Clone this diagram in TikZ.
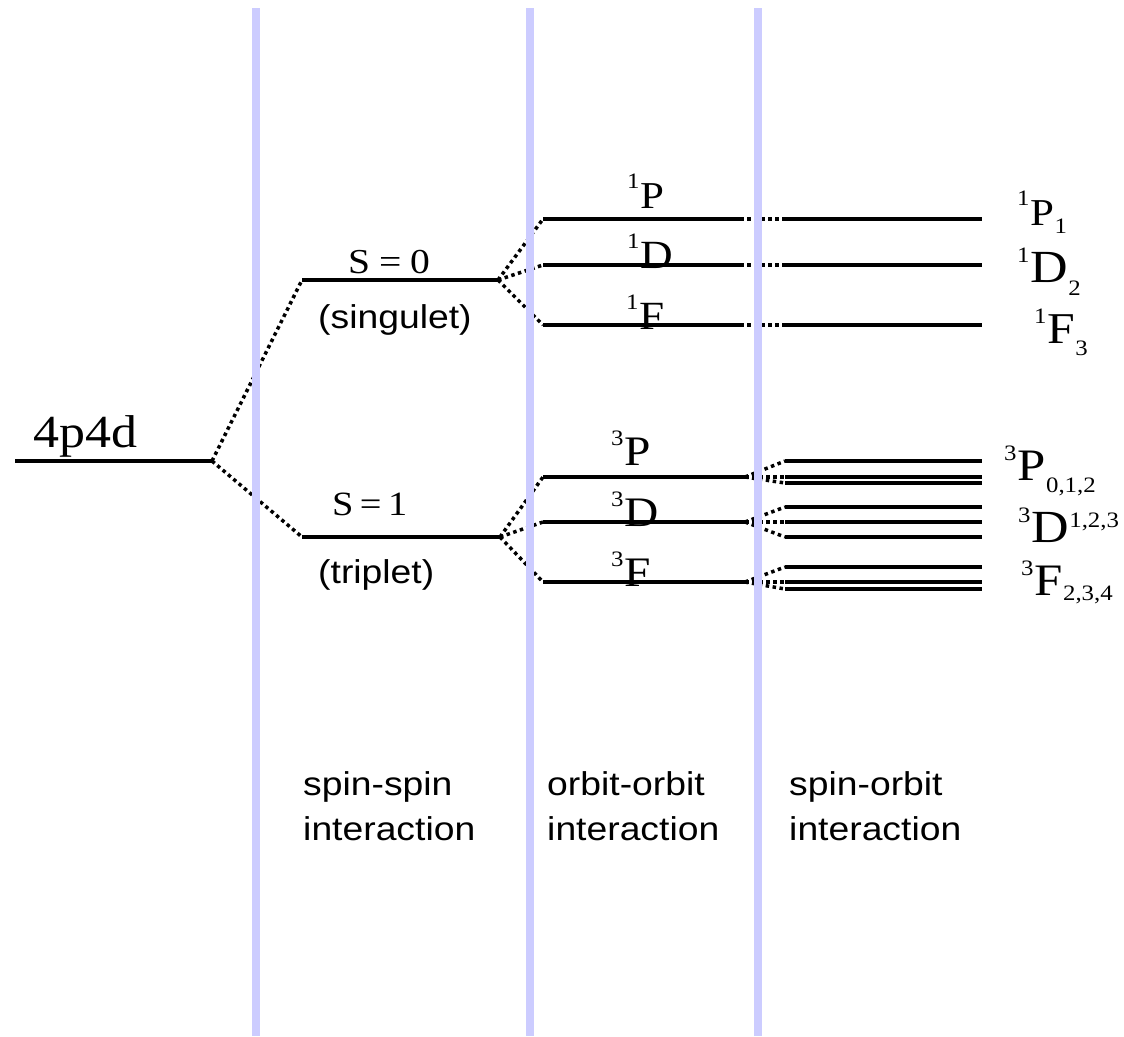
\documentclass[tikz,border=0pt]{standalone}
\usepackage{fontspec}
\setmainfont{Liberation Serif}
\setsansfont{Liberation Sans}
\usepackage{graphicx}
\usetikzlibrary{calc, positioning}
\definecolor{wallblue}{RGB}{204,204,255}
\newcommand{\levelname}[4]{\raisebox{20pt}{\fontsize{22}{22}\selectfont #1}\kern1pt#2\raisebox{#4}{\fontsize{22}{22}\selectfont #3}}
\tikzset{
    wallline/.style = {line width=8pt, draw=wallblue},
    levelline/.style = {line width=4pt, line cap=butt},
    splitline/.style = {line width=3.5pt, dash pattern=on 3.5pt off 3.5pt},
    seriflabel/.style = {draw=none, inner sep=0pt, anchor=base west, xscale=1.13,
      font=\fontsize{#1}{#1}\selectfont},
    sanslabel/.style = {draw=none, inner sep=0pt, anchor=north west, xscale=1.13, align=left,
      font=\sffamily\fontsize{33}{45}\selectfont}
}

\begin{document}
\begin{tikzpicture}[x=1pt, y=-1pt]
\useasboundingbox (0,0) rectangle (1124,1036);

\coordinate (conf-w) at (15,461);
\coordinate (conf-e) at (212,461);
\coordinate (s0-w) at (302,280);
\coordinate (s0-e) at (498,280);
\coordinate (s1-w) at (302,537);
\coordinate (s1-e) at (500,537);

\draw[levelline] (conf-w) -- (conf-e);
\draw[levelline] (s0-w) -- (s0-e);
\draw[levelline] (s1-w) -- (s1-e);
\draw (conf-e) edge[splitline] (s0-w);
\draw (conf-e) edge[splitline] (s1-w);

\node[seriflabel=46, name=conf] at ($(conf-w)+(18,-14)$) {4p4d};
\node[seriflabel=35, name=s0] at ($(s0-w)+(46,-7)$) {S\:=\:0};
\node[seriflabel=34, name=s1] at ($(s1-w)+(30,-22)$) {S\,=\,1};
\node[seriflabel=33, font=\sffamily\fontsize{33}{33}\selectfont, name=singulet] at ($(s0-w)+(16,48)$) {(singulet)};
\node[seriflabel=33, font=\sffamily\fontsize{33}{33}\selectfont, name=triplet] at ($(s1-w)+(16,46)$) {(triplet)};

\foreach \t/\y in {P/219, D/265, F/325} {
  \coordinate (s\t-w) at (543,\y);
  \coordinate (s\t-e) at (740,\y);
  \coordinate (s\t-jw) at (783,\y);
  \coordinate (s\t-je) at (982,\y);
  \draw[splitline] (s0-e) -- (s\t-w);
  \draw[levelline] (s\t-w) -- (s\t-e);
  \draw[splitline] (s\t-e) -- (s\t-jw);
  \draw[levelline] (s\t-jw) -- (s\t-je);
}

\foreach \t/\y/\a/\b/\c in {P/477/461/477/483, D/522/507/522/537, F/582/567/582/589} {
  \coordinate (t\t-w) at (543,\y);
  \coordinate (t\t-e) at (745,\y);
  \draw[splitline] (s1-e) -- (t\t-w);
  \draw[levelline] (t\t-w) -- (t\t-e);
  \foreach \j/\yy in {a/\a, b/\b, c/\c} {
    \coordinate (t\t-\j-w) at (785,\yy);
    \coordinate (t\t-\j-e) at (982,\yy);
    \draw[splitline] (t\t-e) -- (t\t-\j-w);
    \draw[levelline] (t\t-\j-w) -- (t\t-\j-e);
  }
}

\node[seriflabel=38, name=sP-label] at ($(sP-w)+(84,-11)$) {\levelname{1}{P}{}{0pt}};
\node[seriflabel=40, name=sD-label] at ($(sD-w)+(84,3)$) {\levelname{1}{D}{}{0pt}};
\node[seriflabel=40, name=sF-label] at ($(sF-w)+(83,4)$) {\levelname{1}{F}{}{0pt}};
\node[seriflabel=42, name=tP-label] at ($(tP-w)+(68,-12)$) {\levelname{3}{P}{}{0pt}};
\node[seriflabel=42, name=tD-label] at ($(tD-w)+(68,4)$) {\levelname{3}{D}{}{0pt}};
\node[seriflabel=42, name=tF-label] at ($(tF-w)+(68,4)$) {\levelname{3}{F}{}{0pt}};

\node[seriflabel=38, name=sP-j] at ($(sP-je)+(35,6)$) {\levelname{1}{P}{1}{-8pt}};
\node[seriflabel=46, name=sD-j] at ($(sD-je)+(35,17)$) {\levelname{1}{D}{2}{-13pt}};
\node[seriflabel=44, name=sF-j] at ($(sF-je)+(52,18)$) {\levelname{1}{F}{3}{-12pt}};
\node[seriflabel=45, name=tP-j] at ($(tP-b-e)+(22,3)$) {\levelname{3}{P}{0,1,2}{-12pt}};
\node[seriflabel=46, name=tD-j] at ($(tD-b-e)+(36,20)$) {\levelname{3}{D}{1,2,3}{15pt}};
\node[seriflabel=45, name=tF-j] at ($(tF-b-e)+(39,13)$) {\levelname{3}{F}{2,3,4}{-5pt}};

\foreach \x/\name in {256/ss, 530/oo, 758/so} {
  \coordinate (wall-\name-top) at (\x,8);
  \coordinate (wall-\name-bot) at (\x,1036);
  \draw[wallline] (wall-\name-top) -- (wall-\name-bot);
}

\node[sanslabel, name=ss-text] at ($(wall-ss-top)+(47,763)$) {spin-spin\\interaction};
\node[sanslabel, name=oo-text] at ($(wall-oo-top)+(17,763)$) {orbit-orbit\\interaction};
\node[sanslabel, name=so-text] at ($(wall-so-top)+(31,763)$) {spin-orbit\\interaction};
\end{tikzpicture}
\end{document}
